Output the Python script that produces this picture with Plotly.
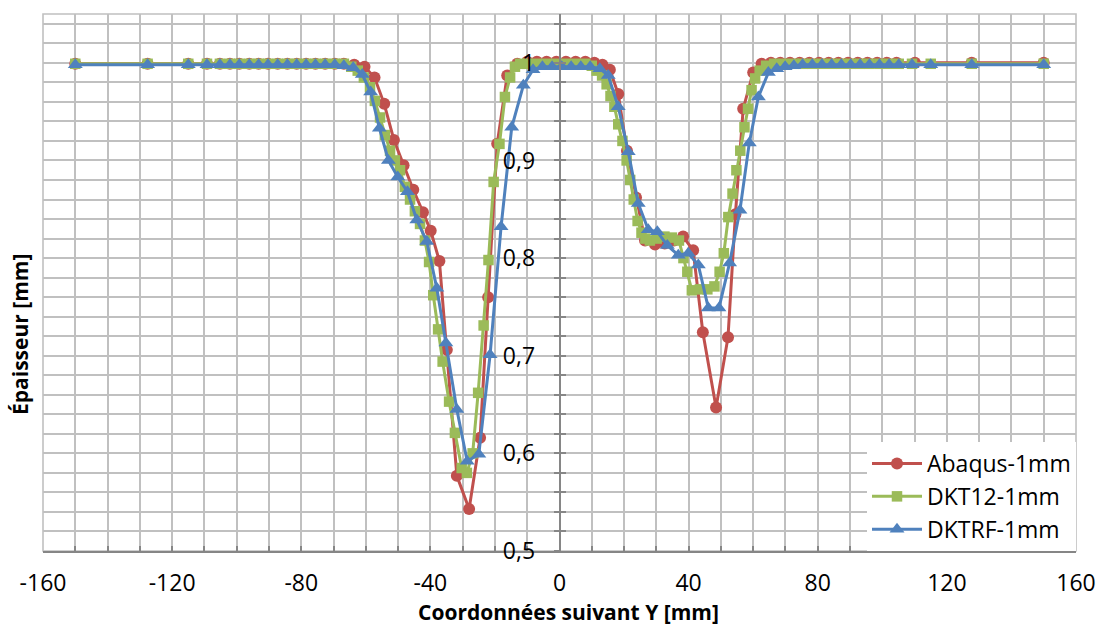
import plotly.graph_objects as go

# ---------------- data ----------------
x_abaqus = [-150.0, -127.6, -115.0, -109.2, -105.2, -102.1, -99.2, -96.1, -93.2, -90.3, -87.3, -84.3, -81.4, -78.5, -75.6, -72.6, -69.6,
            -66.8, -63.6, -60.4, -57.3, -54.3, -51.3, -48.3, -45.3, -42.3, -39.9,
            -37.2, -34.9, -31.8, -28.0, -24.6, -22.1, -19.3, -16.2, -13.1, -10.0,
            -7.0, -4.0, -1.0, 2.0, 5.0, 8.0, 10.8, 13.3, 15.6, 18.2,
            20.9, 23.7, 26.5, 29.6, 32.6, 35.5, 38.3, 41.4, 44.4, 48.5,
            52.2, 54.5, 56.9, 60.0, 62.6, 65.5, 68.4, 71.4, 74.4, 77.4,
            80.4, 83.4, 86.4, 89.4, 92.4, 95.4, 98.4, 101.4, 104.4, 110.1,
            127.7, 150.0]
y_abaqus = [0.999, 0.999, 0.999, 0.999, 0.999, 0.999, 0.999, 0.999, 0.999, 0.999, 0.999, 0.999, 0.999, 0.999, 0.999, 0.999, 0.999,
            0.999, 0.998, 0.996, 0.985, 0.958, 0.921, 0.895, 0.870, 0.847, 0.828,
            0.797, 0.706, 0.577, 0.543, 0.616, 0.760, 0.917, 0.987, 0.999, 1.001,
            1.001, 1.001, 1.001, 1.001, 1.001, 1.001, 1.000, 0.998, 0.993, 0.968,
            0.910, 0.862, 0.818, 0.814, 0.815, 0.818, 0.822, 0.808, 0.724, 0.647,
            0.719, 0.845, 0.953, 0.990, 0.999, 1.000, 1.000, 1.000, 1.000, 1.000,
            1.000, 1.000, 1.000, 1.000, 1.000, 1.000, 1.000, 1.000, 1.000, 1.000,
            1.000, 1.000]

x_dkt12 = [-150.0, -127.6, -115.0, -109.2, -105.2, -102.1, -99.2, -96.1, -93.2, -90.3, -87.3, -84.3, -81.4, -78.5, -75.6, -72.6, -69.6,
           -66.8, -64.5, -62.5, -60.6, -58.7, -57.2, -55.6, -54.1, -52.5, -51.0,
           -49.4, -47.9, -46.3, -44.8, -43.2, -41.7, -40.4, -39.1, -37.6, -36.2,
           -34.2, -32.4, -30.3, -28.7, -26.9, -25.2, -23.5, -22.0, -20.4, -18.6,
           -16.9, -15.3, -13.8, -12.2, -10.0, -7.0, -4.0, -1.0, 2.0, 5.0,
           8.0, 10.0, 11.5, 13.2, 14.6, 15.8, 17.0, 18.2, 19.5, 20.8,
           21.9, 23.0, 24.2, 25.4, 26.6, 28.0, 30.1, 32.5, 34.8, 37.0,
           38.4, 39.6, 41.0, 43.5, 45.8, 48.0, 49.6, 50.9, 52.3, 53.6,
           54.8, 56.0, 57.3, 58.4, 59.5, 60.6, 62.0, 64.0, 66.5, 69.5,
           72.6,
           75.3, 78.3, 81.3, 84.3, 87.3, 90.2, 93.1, 96.0, 99.1, 102.1, 105.1, 109.2, 115.0, 127.7, 150.0]
y_dkt12 = [0.999, 0.999, 0.999, 0.999, 0.999, 0.999, 0.999, 0.999, 0.999, 0.999, 0.999, 0.999, 0.999, 0.999, 0.999, 0.999, 0.999,
           0.999, 0.996, 0.992, 0.985, 0.975, 0.961, 0.944, 0.926, 0.910, 0.900,
           0.890, 0.873, 0.860, 0.848, 0.835, 0.818, 0.796, 0.762, 0.727, 0.694,
           0.653, 0.621, 0.585, 0.580, 0.600, 0.662, 0.731, 0.798, 0.878, 0.917,
           0.965, 0.985, 0.996, 0.999, 0.999, 0.999, 0.999, 0.999, 0.999, 0.999,
           0.999, 0.997, 0.992, 0.987, 0.978, 0.966, 0.955, 0.937, 0.920, 0.900,
           0.880, 0.860, 0.838, 0.826, 0.820, 0.818, 0.820, 0.822, 0.821, 0.818,
           0.800, 0.786, 0.767, 0.768, 0.768, 0.771, 0.786, 0.805, 0.842, 0.866,
           0.890, 0.910, 0.934, 0.953, 0.972, 0.984, 0.992, 0.997, 0.999, 0.999,
           0.999,
           0.999, 0.999, 0.999, 0.999, 0.999, 0.999, 0.999, 0.999, 0.999, 0.999, 0.999, 0.999, 0.999, 0.999, 0.999]

x_dktrf = [-150.0, -127.6, -115.0, -109.2, -105.2, -102.1, -99.2, -96.1, -93.2, -90.3, -87.3, -84.3, -81.4, -78.5, -75.6, -72.6, -69.6,
           -66.8, -63.9, -61.1, -58.5, -55.8, -53.0, -50.1, -47.1, -44.2, -41.1,
           -38.0, -35.2, -31.8, -28.6, -25.0, -21.5, -18.1, -14.8, -11.2, -8.2,
           -5.3, -2.3, 0.7, 3.6, 6.6, 9.5, 12.5, 15.1, 18.2, 21.3,
           24.4, 27.5, 30.3, 33.4, 36.8, 39.9, 43.0, 46.1, 49.4, 52.7,
           55.9, 58.8, 61.6, 64.7, 67.3, 69.9, 72.6,
           75.3, 78.3, 81.3, 84.3, 87.3, 90.2, 93.1, 96.0, 99.1, 102.1, 105.1, 109.2, 115.0, 127.7, 150.0]
y_dktrf = [0.998, 0.998, 0.998, 0.998, 0.998, 0.998, 0.998, 0.998, 0.998, 0.998, 0.998, 0.998, 0.998, 0.998, 0.998, 0.998, 0.998,
           0.997, 0.995, 0.988, 0.970, 0.933, 0.900, 0.883, 0.868, 0.839, 0.817,
           0.769, 0.713, 0.645, 0.592, 0.599, 0.701, 0.832, 0.934, 0.977, 0.993,
           0.996, 0.996, 0.996, 0.996, 0.996, 0.996, 0.994, 0.987, 0.955, 0.909,
           0.856, 0.829, 0.827, 0.813, 0.803, 0.805, 0.793, 0.749, 0.749, 0.795,
           0.849, 0.918, 0.965, 0.990, 0.994, 0.996, 0.997,
           0.998, 0.998, 0.998, 0.998, 0.998, 0.998, 0.998, 0.998, 0.998, 0.998, 0.998, 0.998, 0.998, 0.998, 0.998]

series_names = ["Abaqus-1mm", "DKT12-1mm", "DKTRF-1mm"]

x_tick_vals = [-160, -120, -80, -40, 0, 40, 80, 120, 160]
x_tick_text = ["-160", "-120", "-80", "-40", "0", "40", "80", "120", "160"]
y_tick_vals = [0.5, 0.6, 0.7, 0.8, 0.9, 1.0]
y_tick_text = ["0,5", "0,6", "0,7", "0,8", "0,9", "1"]

x_title = "Coordonnées suivant Y [mm]"
y_title = "Épaisseur [mm]"

# ---------------- styling ----------------
RED = "#C0504D"
GREEN = "#9BBB59"
BLUE = "#4F81BD"
GRID = "#c0c0c0"
AXIS = "#868686"
FONT = "Open Sans"

fig = go.Figure()
fig.add_trace(go.Scatter(x=x_abaqus, y=y_abaqus, mode="lines+markers", name=series_names[0],
                         line=dict(color=RED, width=3),
                         marker=dict(symbol="circle", size=12, color=RED)))
fig.add_trace(go.Scatter(x=x_dkt12, y=y_dkt12, mode="lines+markers", name=series_names[1],
                         line=dict(color=GREEN, width=3),
                         marker=dict(symbol="square", size=10.5, color=GREEN)))
fig.add_trace(go.Scatter(x=x_dktrf, y=y_dktrf, mode="lines+markers", name=series_names[2],
                         line=dict(color=BLUE, width=3),
                         marker=dict(symbol="triangle-up", size=13, color=BLUE)))
# empty helper trace so that the overlay axis (crossing ticks) is drawn
fig.add_trace(go.Scatter(x=[None], y=[None], yaxis="y2", showlegend=False, hoverinfo="skip"))

fig.update_layout(
    width=1102, height=626,
    margin=dict(l=43, r=26, t=14, b=75, autoexpand=False),
    plot_bgcolor="white", paper_bgcolor="white",
    font=dict(family=FONT, size=23, color="black"),
    legend=dict(x=1, xanchor="right", y=0, yanchor="bottom", bgcolor="white",
                font=dict(family=FONT, size=23, color="black"),
                itemwidth=50, tracegroupgap=0, borderwidth=0),
    xaxis=dict(range=[-160, 160], tickmode="array", tickvals=x_tick_vals, ticktext=x_tick_text,
               automargin=False,
               showgrid=True, gridcolor=GRID, gridwidth=1.6,
               ticks="inside", ticklen=5, tickcolor=AXIS, tickwidth=1.5,
               minor=dict(tickmode="linear", tick0=-160, dtick=10, showgrid=True, gridcolor=GRID, gridwidth=1.6,
                          ticks="inside", ticklen=5, tickcolor=AXIS, tickwidth=1.5),
               showline=True, linecolor=AXIS, linewidth=1.6, zeroline=False,
               ticklabelstandoff=11, tickfont=dict(family=FONT, size=23, color="black")),
    yaxis=dict(range=[0.5, 1.05], anchor="free", position=0.5, automargin=False,
               tickmode="array", tickvals=y_tick_vals, ticktext=y_tick_text,
               showgrid=True, gridcolor=GRID, gridwidth=1.6,
               ticks="outside", ticklen=5, tickcolor=AXIS, tickwidth=1.5,
               minor=dict(tickmode="linear", tick0=0.5, dtick=0.02, showgrid=True, gridcolor=GRID, gridwidth=1.6,
                          ticks="outside", ticklen=5, tickcolor=AXIS, tickwidth=1.5),
               showline=True, linecolor=AXIS, linewidth=1.6, zeroline=False,
               ticklabelstandoff=14, tickfont=dict(family=FONT, size=23, color="black")),
    yaxis2=dict(range=[0.5, 1.05], overlaying="y", anchor="free", position=0.5, automargin=False,
                tickmode="linear", tick0=0.5, dtick=0.02, ticks="inside", ticklen=5,
                tickcolor=AXIS, tickwidth=1.5, showticklabels=False, showgrid=False,
                zeroline=False, showline=False),
    shapes=[dict(type="rect", xref="paper", yref="paper", x0=0, x1=1, y0=0, y1=1,
                 line=dict(color=GRID, width=1.6), layer="below")],
    annotations=[
        dict(text="<b>" + x_title + "</b>", xref="paper", yref="paper", x=0.5087, y=-0.1136,
             xanchor="center", yanchor="middle", showarrow=False,
             font=dict(family=FONT, size=21, color="black")),
        dict(text="<b>" + y_title + "</b>", xref="paper", yref="paper", x=-0.0223, y=0.404,
             xanchor="center", yanchor="middle", textangle=-90, showarrow=False,
             font=dict(family=FONT, size=21, color="black")),
    ],
)

fig.write_html("out.html", config={"displayModeBar": False},
               post_script="document.body.style.margin='0px';")
